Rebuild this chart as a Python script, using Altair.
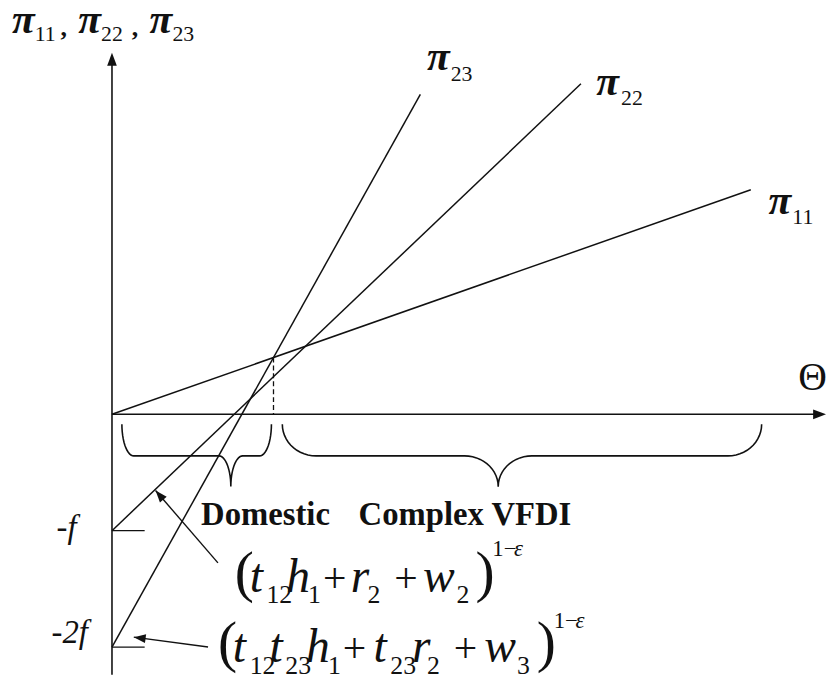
import altair as alt
import numpy as np
import pandas as pd

# ---------------- data (f = 1, equal units on both axes) -------------
line_names = ["π11", "π22", "π23"]
line_theta_end = [5.49, 4.03, 2.65]      # Θ where each profit line stops
line_value_start = [0.0, -1.0, -2.0]     # value at Θ = 0 : 0, -f, -2f
line_value_end = [1.93, 2.84, 2.75]      # value at the end of each line

f_levels = [-1.0, -2.0]
f_labels = ["-f", "-2f"]
region_labels = ["Domestic", "Complex VFDI"]

# ---------------- layout helpers (figure geometry) ----------------
U = 117.5            # pixels per unit
OX, OY = 113, 415    # origin in page pixels
def X(px):
    return (px - OX) / U
def Y(py):
    return (OY - py) / U

W, H = 827, 670
xs = alt.Scale(domain=[X(8), X(8 + W)], nice=False, zero=False)
ys = alt.Scale(domain=[Y(8 + H), Y(8)], nice=False, zero=False)
INK = "#111111"
SERIF = "Liberation Serif"

def ex(field):
    return alt.X(field, type="quantitative", scale=xs, axis=None)
def ey(field):
    return alt.Y(field, type="quantitative", scale=ys, axis=None)

# ---------------- profit lines ----------------
lines_df = pd.DataFrame({
    "name": line_names,
    "x0": [0.0] * 3,
    "y0": line_value_start,
    "x1": line_theta_end,
    "y1": line_value_end,
})
lines = alt.Chart(lines_df).mark_rule(color=INK, strokeWidth=1.5).encode(
    x=ex("x0"), y=ey("y0"), x2="x1", y2="y1")

# intersection of π11 and π23 -> dashed line down to the axis
s11 = (line_value_end[0] - line_value_start[0]) / line_theta_end[0]
s23 = (line_value_end[2] - line_value_start[2]) / line_theta_end[2]
xi = (line_value_start[2] - line_value_start[0]) / (s11 - s23)
yi = line_value_start[0] + s11 * xi
dash_df = pd.DataFrame({"x0": [xi], "y0": [yi], "x1": [xi], "y1": [0.0]})
dash = alt.Chart(dash_df).mark_rule(color=INK, strokeWidth=1.3, strokeDash=[5, 3]).encode(
    x=ex("x0"), y=ey("y0"), x2="x1", y2="y1")

# ---------------- axes ----------------
axes_df = pd.DataFrame({
    "x0": [0.0, 0.0], "y0": [Y(8 + H), 0.0],
    "x1": [0.0, X(826)], "y1": [Y(56), 0.0],
})
axes = alt.Chart(axes_df).mark_rule(color=INK, strokeWidth=1.6).encode(
    x=ex("x0"), y=ey("y0"), x2="x1", y2="y1")

ticks_df = pd.DataFrame({"x0": [0.0, 0.0], "x1": [X(146)] * 2, "y0": f_levels, "y1": f_levels})
ticks = alt.Chart(ticks_df).mark_rule(color=INK, strokeWidth=1.3).encode(
    x=ex("x0"), y=ey("y0"), x2="x1", y2="y1")

# ---------------- annotation arrows ----------------
arrow_tail = [(220, 565), (210, 650)]
arrow_tip = [(157, 492), (135, 640)]
arr_df = pd.DataFrame({
    "x0": [X(a[0]) for a in arrow_tail], "y0": [Y(a[1]) for a in arrow_tail],
    "x1": [X(a[0]) for a in arrow_tip], "y1": [Y(a[1]) for a in arrow_tip],
})
arrows = alt.Chart(arr_df).mark_rule(color=INK, strokeWidth=1.4).encode(
    x=ex("x0"), y=ey("y0"), x2="x1", y2="y1")

# arrow heads: (tip px, direction from tail px, length)
heads = []
for (tx, ty), (hx, hy) in zip(arrow_tail, arrow_tip):
    heads.append(((hx, hy), (hx - tx, hy - ty), 12))
heads.append(((113, 50), (0, -1), 13))     # y axis
heads.append(((834, 415), (1, 0), 13))     # x axis
hrows = []
for (hx, hy), (dx, dy), L in heads:
    n = np.hypot(dx, dy)
    ux, uy = dx / n, dy / n
    cx, cy = hx - ux * L / 2, hy - uy * L / 2
    ang = np.degrees(np.arctan2(ux, -uy)) % 360
    hrows.append({"x": X(cx), "y": Y(cy), "angle": float(ang), "size": float(L * L)})
heads_df = pd.DataFrame(hrows)
arrow_heads = alt.Chart(heads_df).mark_point(
    shape="M0,-1L0.75,1L-0.75,1Z", filled=True, color=INK, opacity=1, strokeWidth=0
).encode(x=ex("x"), y=ey("y"),
         angle=alt.Angle("angle:Q", scale=None),
         size=alt.Size("size:Q", scale=None))

# ---------------- braces ----------------
def brace_points(x0, x1, xm, rx, y_top=425, y_mid=457, y_tip=488, n=14):
    t = np.linspace(0, np.pi / 2, n)
    r1, r2 = y_mid - y_top, y_tip - y_mid
    pts = []
    pts += list(zip(x0 + rx - rx * np.cos(t), y_top + r1 * np.sin(t)))
    pts += list(zip(xm - rx + rx * np.sin(t), y_tip - r2 * np.cos(t)))
    pts += list(zip(xm + rx - rx * np.cos(t), y_tip - r2 * np.sin(t)))
    pts += list(zip(x1 - rx + rx * np.sin(t), y_top + r1 * np.cos(t)))
    return pts

brace_specs = [("Domestic", 123, 274, 233, 12), ("Complex VFDI", 285, 769, 503, 34)]
brows = []
for name, a, b, m, rx in brace_specs:
    for i, (px, py) in enumerate(brace_points(a, b, m, rx)):
        brows.append({"brace": name, "i": i, "x": X(px), "y": Y(py)})
brace_df = pd.DataFrame(brows)
braces = alt.Chart(brace_df).mark_line(color=INK, strokeWidth=1.6).encode(
    x=ex("x"), y=ey("y"), detail="brace:N", order="i:Q")

# ---------------- text ----------------
texts = []
def T(text, px, py, size, style):
    texts.append({"text": text, "x": X(px), "y": Y(py), "size": size, "style": style})

# π labels
for px, py in [(12, 30), (79, 30), (151, 30), (431, 67), (602, 93), (776, 213)]:
    T("π", px, py, 42, "bi")
for s, px, py in [("11", 35, 38), ("22", 102, 38), ("23", 174, 38),
                  ("23", 455, 78), ("22", 627, 103), ("11", 800, 223)]:
    T(s, px, py, 22, "r")
T(",", 61, 33, 26, "b")
T(",", 133, 33, 26, "b")

T("Θ", 806, 390, 40, "r")
T(f_labels[0], 57, 540, 33, "i")
T(f_labels[1], 52, 646, 33, "i")
T(region_labels[0], 203, 527, 33, "b")
T(region_labels[1], 362, 527, 33, "b")

# formula 1 : (t12 h1 + r2 + w2)^(1-ε)
b1, s1, u1 = 594, 606, 558
T("(", 237, b1 - 1, 58, "r")
T("t", 252, b1, 48, "i"); T("12", 269, s1, 26, "r")
T("h", 289, b1, 48, "i"); T("1", 311, s1, 26, "r")
T("+", 326, b1, 42, "r")
T("r", 354, b1, 48, "i"); T("2", 371, s1, 26, "r")
T("+", 398, b1, 42, "r")
T("w", 427, b1, 48, "i"); T("2", 461, s1, 26, "r")
T(")", 480, b1 - 1, 58, "r")
T("1−", 497, u1, 23, "r"); T("ε", 519, u1, 23, "i")

# formula 2 : (t12 t23 h1 + t23 r2 + w3)^(1-ε)
b2, s2, u2 = 665, 677, 631
T("(", 220, b2 - 1, 58, "r")
T("t", 235, b2, 48, "i"); T("12", 252, s2, 26, "r")
T("t", 272, b2, 48, "i"); T("23", 288, s2, 26, "r")
T("h", 309, b2, 48, "i"); T("1", 331, s2, 26, "r")
T("+", 346, b2, 42, "r")
T("t", 377, b2, 48, "i"); T("23", 394, s2, 26, "r")
T("r", 416, b2, 48, "i"); T("2", 431, s2, 26, "r")
T("+", 458, b2, 42, "r")
T("w", 489, b2, 48, "i"); T("3", 522, s2, 26, "r")
T(")", 542, b2 - 1, 58, "r")
T("1−", 559, u2, 23, "r"); T("ε", 581, u2, 23, "i")

text_df = pd.DataFrame(texts)
style_map = {"r": ("normal", "normal"), "i": ("italic", "normal"),
             "b": ("normal", "bold"), "bi": ("italic", "bold")}
text_layers = []
for key, (fs, fw) in style_map.items():
    sub = text_df[text_df["style"] == key]
    if len(sub) == 0:
        continue
    text_layers.append(
        alt.Chart(sub).mark_text(align="left", baseline="alphabetic", font=SERIF,
                                 fontStyle=fs, fontWeight=fw, color=INK).encode(
            x=ex("x"), y=ey("y"), text="text:N", size=alt.Size("size:Q", scale=None)))

chart = alt.layer(axes, ticks, lines, dash, braces, arrows, arrow_heads, *text_layers).properties(
    width=W, height=H, padding=0, autosize=alt.AutoSizeParams(type="none"),
    background="white",
).configure_view(stroke=None)

chart.save("out.html", embed_options={"renderer": "svg", "actions": False})
